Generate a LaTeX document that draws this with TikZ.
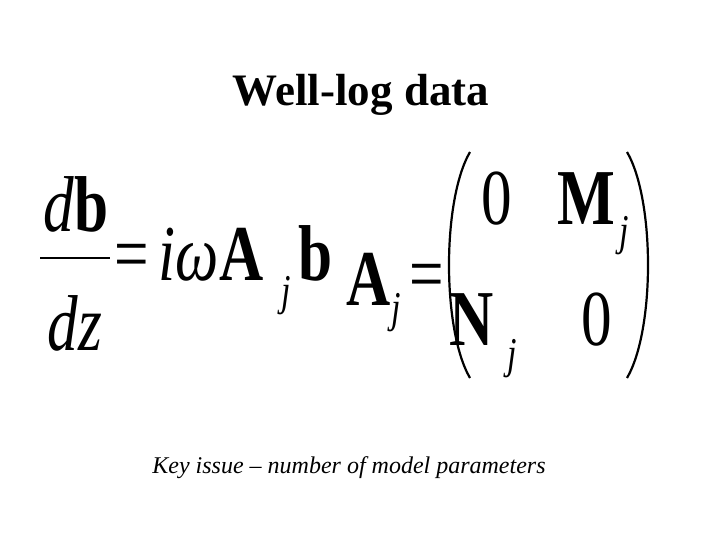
\documentclass[tikz,border=0pt]{standalone}
\usepackage{fontspec}
\setmainfont{Liberation Serif}
\usetikzlibrary{positioning}
\newcommand{\cond}[1]{\scalebox{0.85}[1.1]{#1}}
\tikzset{
  big/.style={inner sep=0pt, anchor=base, font=\fontsize{72}{74}\selectfont},
  sub/.style={inner sep=0pt, anchor=base, font=\fontsize{40}{44}\selectfont\itshape},
  paren/.style={line width=2.2pt},
}
\begin{document}
\begin{tikzpicture}[x=1pt,y=-1pt]
  \useasboundingbox (0,0) rectangle (720,540);
  % title and caption
  \node[font=\fontsize{45}{50}\selectfont\bfseries] (title) at (361,95) {Well-log data};
  \node[font=\fontsize{24}{28}\selectfont\itshape] (caption) at (349,468) {Key issue -- number of model parameters};
  % fraction
  \node[big] (num) at (76,232) {\cond{\textit{d}\textbf{b}}};
  \node[big] (den) at (75,350) {\cond{\textit{dz}}};
  \draw[line width=2.5pt] (40,258) -- (110,258);
  % right-hand side
  \node[big, anchor=base west] (rhs) at (114,280) {\cond{=\,\textit{iω}\textbf{A}}};
  \node[sub] (rj) at (286,305) {\cond{j}};
  \node[big, anchor=base west] (rb) at (298,280) {\cond{\textbf{b}}};
  % definition of A
  \node[big, anchor=base west] (adef) at (346,305) {\cond{\textbf{A}}};
  \node[sub] (aj) at (396,322) {\cond{j}};
  \node[big, anchor=base west] (aeq) at (409,300) {\cond{=}};
  % matrix
  \draw[paren] (470,152) .. controls (442,200) and (442,330) .. (470,378);
  \draw[paren] (627,152) .. controls (655,200) and (655,330) .. (627,378);
  \node[big] (m11) at (497,225) {\cond{0}};
  \node[big, anchor=base west] (m12) at (557,225) {\cond{\textbf{M}}};
  \node[sub] (mj) at (624,245) {\cond{j}};
  \node[big, anchor=base west] (m21) at (449,345) {\cond{\textbf{N}}};
  \node[sub] (nj) at (512,368) {\cond{j}};
  \node[big] (m22) at (597,345) {\cond{0}};
\end{tikzpicture}
\end{document}
